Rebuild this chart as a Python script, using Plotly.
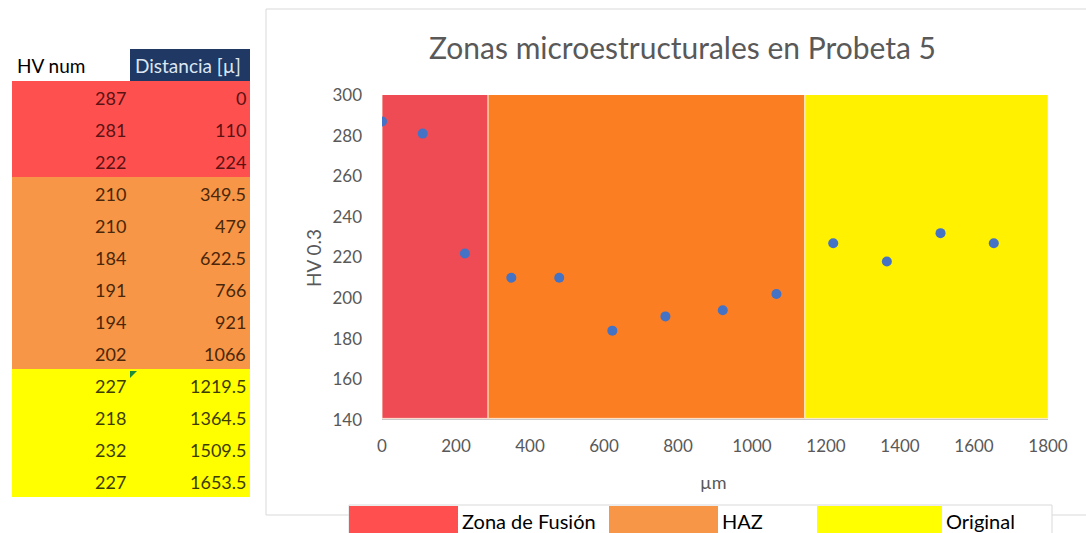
import plotly.graph_objects as go

# Hardness readings along the specimen
hv_num = [287, 281, 222, 210, 210, 184, 191, 194, 202, 227, 218, 232, 227]
distancia = [0, 110, 224, 349.5, 479, 622.5, 766, 921, 1066, 1219.5, 1364.5, 1509.5, 1653.5]
distancia_txt = ["0", "110", "224", "349.5", "479", "622.5", "766", "921", "1066",
                 "1219.5", "1364.5", "1509.5", "1653.5"]
# zone index per reading (0 fusion, 1 HAZ, 2 base metal)
zona_idx = [0, 0, 0, 1, 1, 1, 1, 1, 1, 2, 2, 2, 2]
table_headers = ["HV num", "Distancia [µ]"]

# Microstructural zones shown as background bands
zone_names = ["Zona de Fusión", "HAZ", "Original"]
zone_start = [0, 286.75, 1142.75]
zone_end = [286.75, 1142.75, 1800]

x_ticks = [0, 200, 400, 600, 800, 1000, 1200, 1400, 1600, 1800]
y_ticks = [140, 160, 180, 200, 220, 240, 260, 280, 300]

band_colors = ["#EF4B55", "#FC7E23", "#FFF100"]
table_colors = ["#FF5050", "#F79646", "#FFFF00"]
table_text = ["#5a1212", "#4a260a", "#3c3c00"]
legend_colors = ["#FF4F4F", "#F79646", "#FFFF00"]

W, H = 1086, 533
FONT = "Lato"
GREY = "#595959"


def px(x):
    return x / W


def py(y):
    return 1 - y / H


fig = go.Figure()

# Scatter of hardness vs distance
fig.add_trace(go.Scatter(
    x=distancia, y=hv_num, mode="markers",
    marker=dict(color="#4472C4", size=10),
    showlegend=False, hoverinfo="x+y",
))

shapes = []
annotations = []

# ---- spreadsheet-style table on the left ----
col_left = [12, 130]
col_right = [130, 250]
head_top, head_bot = 49, 81
row_h = 32
head_fill = ["#FFFFFF", "#1F3864"]
head_color = ["#000000", "#DCE6F2"]
for c in range(2):
    shapes.append(dict(type="rect", xref="paper", yref="paper",
                       x0=px(col_left[c]), x1=px(col_right[c]), y0=py(head_bot), y1=py(head_top),
                       line=dict(width=0), fillcolor=head_fill[c]))
    annotations.append(dict(x=px(col_left[c] + 3), y=py((head_top + head_bot) / 2),
                            xref="paper", yref="paper", text=table_headers[c],
                            showarrow=False, xanchor="left", yanchor="middle",
                            font=dict(family=FONT, size=19, color=head_color[c])))
for i, (hv, dtxt, z) in enumerate(zip(hv_num, distancia_txt, zona_idx)):
    top = head_bot + i * row_h
    shapes.append(dict(type="rect", xref="paper", yref="paper",
                       x0=px(col_left[0]), x1=px(col_right[1]), y0=py(top + row_h), y1=py(top),
                       line=dict(width=0), fillcolor=table_colors[z]))
    for c, txt in enumerate([str(hv), dtxt]):
        annotations.append(dict(x=px(col_right[c] - 2), y=py(top + row_h / 2 + 1),
                                xref="paper", yref="paper", text=txt,
                                showarrow=False, xanchor="right", yanchor="middle",
                                font=dict(family=FONT, size=18, color=table_text[z])))

# small green marker in a table cell
shapes.append(dict(type="path", xref="paper", yref="paper",
                   path=f"M {px(130)} {py(371)} L {px(137)} {py(371)} L {px(130)} {py(378)} Z",
                   fillcolor="#1E8C3A", line=dict(width=0)))

# ---- chart ----
shapes.append(dict(type="rect", xref="paper", yref="paper",
                   x0=px(266), x1=px(1090), y0=py(515), y1=py(9),
                   line=dict(color="#D9D9D9", width=1), fillcolor="white", layer="below"))
# soft shadow under the bands
shapes.append(dict(type="rect", xref="x", yref="y",
                   x0=zone_start[0], x1=zone_end[-1], y0=139.0, y1=140.6,
                   line=dict(width=0), fillcolor="#C9C9C9", layer="below"))
# zone bands
for s, e, c in zip(zone_start, zone_end, band_colors):
    shapes.append(dict(type="rect", xref="x", yref="y",
                       x0=s, x1=e, y0=140.8, y1=300.5,
                       line=dict(color="rgba(255,235,215,0.9)", width=1),
                       fillcolor=c, layer="below"))

# legend box
shapes.append(dict(type="rect", xref="paper", yref="paper",
                   x0=px(349), x1=px(1052), y0=py(540), y1=py(505),
                   line=dict(color="#D9D9D9", width=1), fillcolor="white"))
legend_x = [349, 609, 817]
legend_w = [109, 109, 125]
for lx, lw, c, name in zip(legend_x, legend_w, legend_colors, zone_names):
    shapes.append(dict(type="rect", xref="paper", yref="paper",
                       x0=px(lx), x1=px(lx + lw), y0=py(540), y1=py(506),
                       line=dict(width=0), fillcolor=c))
    annotations.append(dict(x=px(lx + lw + 2), y=py(521), xref="paper", yref="paper",
                            text=name, showarrow=False, xanchor="left", yanchor="middle",
                            font=dict(family=FONT, size=20, color="#000000")))

annotations += [
    dict(x=px(682), y=py(47), xref="paper", yref="paper", text="Zonas microestructurales en Probeta 5",
         showarrow=False, xanchor="center", yanchor="middle",
         font=dict(family=FONT, size=30, color=GREY)),
    dict(x=px(313), y=py(258), xref="paper", yref="paper", text="HV 0.3", textangle=-90,
         showarrow=False, xanchor="center", yanchor="middle",
         font=dict(family=FONT, size=19, color=GREY)),
    dict(x=px(713), y=py(482), xref="paper", yref="paper", text="µm",
         showarrow=False, xanchor="center", yanchor="middle",
         font=dict(family=FONT, size=18, color=GREY)),
]

fig.update_layout(
    template="none",
    width=W, height=H,
    margin=dict(l=0, r=0, t=0, b=0, autoexpand=False),
    paper_bgcolor="white", plot_bgcolor="rgba(0,0,0,0)",
    shapes=shapes, annotations=annotations,
    showlegend=False,
    xaxis=dict(domain=[px(382), px(1048)], range=[0, 1800], tickvals=x_ticks,
               showgrid=False, zeroline=False, showline=False, ticks="",
               automargin=False, ticklabelstandoff=14,
               tickfont=dict(family=FONT, size=17, color=GREY)),
    yaxis=dict(domain=[py(420), py(95)], range=[140, 300], tickvals=y_ticks,
               showgrid=False, zeroline=False, showline=False, ticks="",
               automargin=False, ticklabelstandoff=19,
               tickfont=dict(family=FONT, size=17, color=GREY)),
)

fig.write_html("out.html")
